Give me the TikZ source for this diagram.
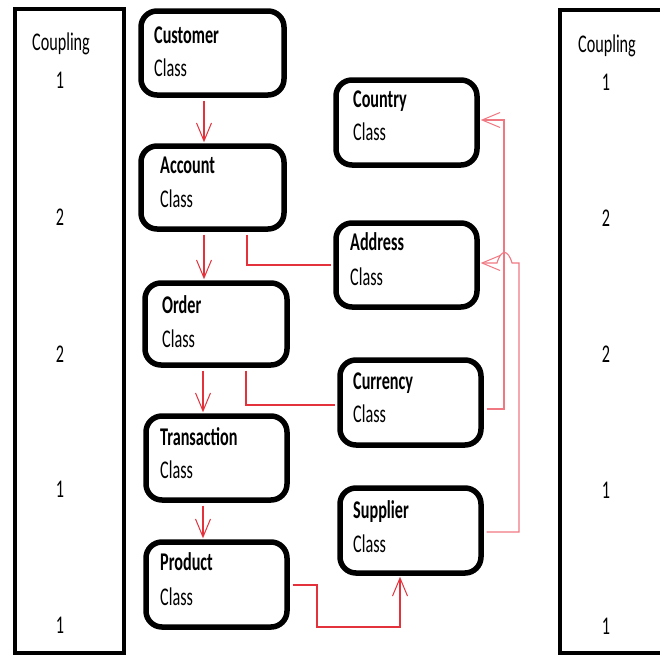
\documentclass[tikz,border=0pt]{standalone}
\usepackage{fontspec}
\setmainfont{Carlito}[FakeStretch=0.635]
\usetikzlibrary{arrows.meta}
\definecolor{linkred}{RGB}{228,50,60}
\definecolor{linkpink}{RGB}{240,120,130}
\begin{document}
\begin{tikzpicture}[x=1pt,y=-1pt,
  panel/.style={draw=black,line width=4.5pt,fill=white,inner sep=0pt},
  classbox/.style={draw=black,line width=5.5pt,fill=white,rounded corners=16pt,inner sep=0pt,minimum width=141pt},
  txt/.style={anchor=base west,inner sep=0pt,font=\fontsize{25.5}{30}\selectfont},
  ttl/.style={anchor=base west,inner sep=0pt,font=\fontsize{25.5}{30}\selectfont\bfseries},
  ctxt/.style={anchor=base,inner sep=0pt,font=\fontsize{25.5}{30}\selectfont},
  link/.style={draw=linkred,line width=1.1pt,shorten <=2.75pt,shorten >=2.75pt},
  arr/.style={link,shorten >=1pt,-{Straight Barb[length=18pt,width=15pt,line width=1pt]}},
]
\useasboundingbox (0,0) rectangle (660,656);
\clip (0,0) rectangle (660,656);
\fill[white] (0,0) rectangle (660,656);

% side panels
\node[panel,minimum width=109pt,minimum height=644pt] (lpanel) at (69.5,331) {};
\node[panel,minimum width=120pt,minimum height=643pt] (rpanel) at (620,331.5) {};

\node[ctxt] (lcoup) at (61,50) {Coupling};
\node[ctxt] (l1) at (60,88) {1};
\node[ctxt] (l2) at (60,225) {2};
\node[ctxt] (l3) at (60,362) {2};
\node[ctxt] (l4) at (60,497) {1};
\node[ctxt] (l5) at (60,633) {1};

\node[ctxt] (rcoup) at (607,52) {Coupling};
\node[ctxt] (r1) at (606,90) {1};
\node[ctxt] (r2) at (606,226) {2};
\node[ctxt] (r3) at (606,362) {2};
\node[ctxt] (r4) at (606,498) {1};
\node[ctxt] (r5) at (606,634) {1};

% class boxes
\node[classbox,minimum width=143pt,minimum height=84pt] (cust) at (212.5,53) {};
\node[classbox,minimum width=143pt,minimum height=83pt] (acct) at (212.5,187.5) {};
\node[classbox,minimum width=142pt,minimum height=82pt] (order) at (216,324) {};
\node[classbox,minimum width=141pt,minimum height=84pt] (trans) at (216.5,458) {};
\node[classbox,minimum width=141pt,minimum height=85pt] (prod) at (216.5,584.5) {};
\node[classbox,minimum width=141pt,minimum height=85pt] (country) at (406.5,122.5) {};
\node[classbox,minimum width=141pt,minimum height=84pt] (address) at (406.5,265) {};
\node[classbox,minimum width=141pt,minimum height=85pt] (currency) at (410.5,402.5) {};
\node[classbox,minimum width=141pt,minimum height=85pt] (supplier) at (410.5,530.5) {};

\node[ttl] (custT) at (154,43) {Customer};
\node[txt] (custC) at (154,76) {Class};
\node[ttl] (acctT) at (160,173) {Account};
\node[txt] (acctC) at (160,207) {Class};
\node[ttl] (orderT) at (162,313) {Order};
\node[txt] (orderC) at (162,347) {Class};
\node[ttl] (transT) at (160,445) {Transaction};
\node[txt] (transC) at (160,478) {Class};
\node[ttl] (prodT) at (160,570) {Product};
\node[txt] (prodC) at (160,605) {Class};
\node[ttl] (countryT) at (353,107) {Country};
\node[txt] (countryC) at (353,140) {Class};
\node[ttl] (addressT) at (350,250) {Address};
\node[txt] (addressC) at (350,285) {Class};
\node[ttl] (currencyT) at (353,389) {Currency};
\node[txt] (currencyC) at (353,422) {Class};
\node[ttl] (supplierT) at (353,518) {Supplier};
\node[txt] (supplierC) at (353,552) {Class};

% connector coordinates
\coordinate (xa) at (204,0);
\coordinate (xb) at (203,0);
\coordinate (b5) at (247,265);
\coordinate (b6) at (246,405);
\coordinate (c7a) at (504,409);
\coordinate (c7b) at (504,120);
\coordinate (c8a) at (519,532);
\coordinate (c8b) at (519,263);
\coordinate (h1) at (512,263);
\coordinate (h2) at (497,263);
\coordinate (c9a) at (317,585);
\coordinate (c9b) at (317,627);
\coordinate (c9c) at (400,627);

% connectors
\draw[arr] (cust.south -| xa) -- (acct.north -| xa);
\draw[arr] (acct.south -| xa) -- (order.north -| xa);
\draw[arr] (order.south -| xb) -- (trans.north -| xb);
\draw[arr] (trans.south -| xb) -- (prod.north -| xb);
\draw[link] (acct.south -| b5) -- (b5) -- (address.west |- b5);
\draw[link] (order.south -| b6) -- (b6) -- (currency.west |- b6);
\draw[arr,draw=linkpink] (currency.east |- c7a) -- (c7a) -- (c7b) -- (country.east |- c7b);
\draw[arr,draw=linkpink] (supplier.east |- c8a) -- (c8a) -- (c8b) -- (h1)
  .. controls (508,249) and (501,249) .. (h2) -- (address.east |- h2);
\draw[arr] (prod.east |- c9a) -- (c9a) -- (c9b) -- (c9c) -- (supplier.south -| c9c);
\end{tikzpicture}
\end{document}
